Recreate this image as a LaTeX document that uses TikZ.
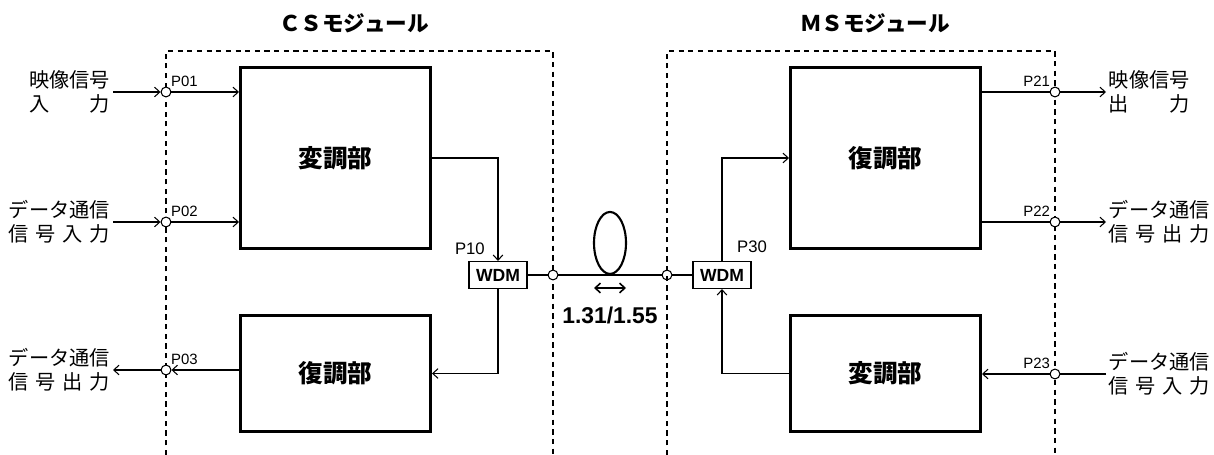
\documentclass[tikz,border=0pt]{standalone}
\usepackage{fontspec}
\setmainfont{Noto Sans CJK JP}
\newfontfamily\latinfont{Liberation Sans}
\usetikzlibrary{shapes.geometric,positioning,calc,arrows.meta}
\newcommand{\spreadtext}[2]{\makebox[#1em][s]{#2}}

\begin{document}
\begin{tikzpicture}[x=0.02cm, y=-0.02cm, >={Straight Barb[length=3pt,width=5.5pt]},
  block/.style={draw, line width=1.7pt, minimum width=3.8cm, align=center, font=\fontsize{14}{16}\selectfont\bfseries},
  port/.style={circle, draw, fill=white, line width=0.6pt, inner sep=0pt, minimum size=5.6pt},
  portlbl/.style={font=\latinfont\fontsize{8.5}{9}\selectfont, inner sep=0.5pt},
  sigtext/.style={font=\fontsize{11.5}{13.6}\selectfont, inner sep=1.5pt, align=left},
  wdmbox/.style={draw, fill=white, line width=0.6pt, minimum width=1.16cm, minimum height=0.54cm, font=\latinfont\fontsize{10}{12}\selectfont\bfseries, inner sep=0pt},
  module/.style={dash pattern=on 3pt off 2.5pt, line width=0.6pt},
  wire/.style={line width=0.6pt},
  fiber/.style={line width=1.2pt}
]
\useasboundingbox (0,0) rectangle (1214,455);

% ===== CS module =====
\node[font=\fontsize{12.3}{14}\selectfont\bfseries] (cstitle) at (354,23) {ＣＳモジュール};
\draw[module] (166,455) |- (553,51) -- (553,455);
\node[block, minimum height=3.64cm] (csmod) at (335.5,158) {変調部};
\node[block, minimum height=2.34cm] (csdem) at (335.5,373.5) {復調部};

% ports
\node[port] (p01) at (166,92) {};
\node[port] (p02) at (166,222) {};
\node[port] (p03) at (166,370) {};
\node[portlbl, anchor=south west] at (p01.north east) {P01};
\node[portlbl, anchor=south west] at (p02.north east) {P02};
\node[portlbl, anchor=south west] at (p03.north east) {P03};

% signal texts
\node[sigtext, anchor=east] (in01) at (113,92) {映像信号\\\spreadtext{4}{入\hfill 力}};
\node[sigtext, anchor=east] (in02) at (113,222) {データ通信\\\spreadtext{5}{信\hfill 号\hfill 入\hfill 力}};
\node[sigtext, anchor=east] (out03) at (113,370) {データ通信\\\spreadtext{5}{信\hfill 号\hfill 出\hfill 力}};

\draw[wire,->] (in01) -- (p01);
\draw[wire,->] (p01) -- (p01 -| csmod.west);
\draw[wire,->] (in02) -- (p02);
\draw[wire,->] (p02) -- (p02 -| csmod.west);
\draw[wire,->] (p03 -| csdem.west) -- (p03);
\draw[wire,->] (p03) -- (out03);

% ===== fiber link =====
\node[wdmbox] (wdmL) at (498,275) {WDM};
\node[wdmbox] (wdmR) at (722,275) {WDM};
\node[portlbl, font=\latinfont\fontsize{9.5}{10}\selectfont, anchor=south east] at ([shift={(-12,-5)}]wdmL.north) {P10};
\node[portlbl, font=\latinfont\fontsize{9.5}{10}\selectfont, anchor=south west] at ([shift={(14,-7)}]wdmR.north) {P30};

\node[port] (fL) at (553,275) {};
\node[port] (fR) at (667,275) {};
\draw[fiber] (wdmL) -- (fL);
\draw[fiber] (fL) -- (fR);
\draw[fiber] (fR) -- (wdmR);
\node[draw, ellipse, line width=1.2pt, minimum width=0.64cm, minimum height=1.24cm, inner sep=0pt, anchor=south] (loop) at (610,275) {};
\coordinate (dirL) at (594,288);
\coordinate (dirR) at (626,288);
\draw[line width=0.9pt,<->] (dirL) -- (dirR);
\node[font=\latinfont\fontsize{13}{15}\selectfont\bfseries] (wl) at (610,315) {1.31/1.55};

\draw[wire,->] (csmod.east) -| (wdmL.north);
\draw[wire,->] (wdmL.south) |- (csdem.east);

% ===== MS module =====
\node[font=\fontsize{12.3}{14}\selectfont\bfseries] (mstitle) at (875,23) {ＭＳモジュール};
\draw[module] (667,455) |- (1055,51) -- (1055,455);
\node[block, minimum height=3.64cm] (msdem) at (885.5,158) {復調部};
\node[block, minimum height=2.34cm] (msmod) at (885.5,373.5) {変調部};

\draw[wire,->] (wdmR.north) |- (msdem.west);
\draw[wire,->] (msmod.west) -| (wdmR.south);

% ports
\node[port] (p21) at (1055,92) {};
\node[port] (p22) at (1055,222) {};
\node[port] (p23) at (1055,374) {};
\node[portlbl, anchor=south east] at (p21.north west) {P21};
\node[portlbl, anchor=south east] at (p22.north west) {P22};
\node[portlbl, anchor=south east] at (p23.north west) {P23};

% signal texts
\node[sigtext, anchor=west] (out21) at (1106,92) {映像信号\\\spreadtext{4}{出\hfill 力}};
\node[sigtext, anchor=west] (out22) at (1106,222) {データ通信\\\spreadtext{5}{信\hfill 号\hfill 出\hfill 力}};
\node[sigtext, anchor=west] (in23) at (1106,374) {データ通信\\\spreadtext{5}{信\hfill 号\hfill 入\hfill 力}};

\draw[wire] (p21 -| msdem.east) -- (p21);
\draw[wire,->] (p21) -- (out21);
\draw[wire] (p22 -| msdem.east) -- (p22);
\draw[wire,->] (p22) -- (out22);
\draw[wire] (in23) -- (p23);
\draw[wire,->] (p23) -- (p23 -| msmod.east);

\end{tikzpicture}
\end{document}
